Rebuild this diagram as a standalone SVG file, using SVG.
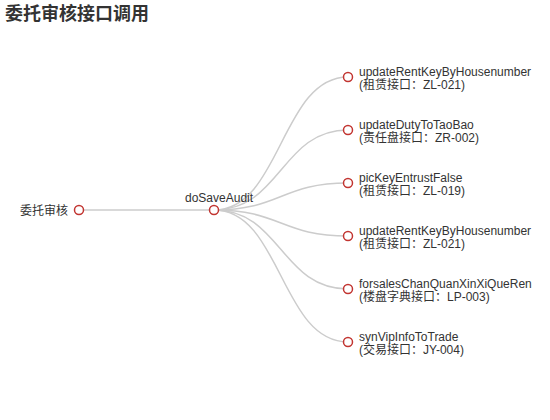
<svg xmlns="http://www.w3.org/2000/svg" width="550" height="420" viewBox="0 0 550 420">
<style>
text{font-family:"Liberation Sans","Noto Sans CJK SC",sans-serif;fill:#333;font-size:12px}
.title{font-size:18px;font-weight:bold}
.node circle{fill:#fff;stroke:#c23531;stroke-width:1.5}
.links path{fill:none;stroke:#ccc;stroke-width:1.5}
</style>
<rect width="550" height="420" fill="#fff"/>
<text class="title" x="5" y="20">委托审核接口调用</text>
<g class="links">
<path d="M79,210 L214,210"/>
<path d="M214,210 C281,210 281,77 348,77"/>
<path d="M214,210 C281,210 281,130 348,130"/>
<path d="M214,210 C281,210 281,183 348,183"/>
<path d="M214,210 C281,210 281,236 348,236"/>
<path d="M214,210 C281,210 281,289 348,289"/>
<path d="M214,210 C281,210 281,342 348,342"/>
</g>
<g id="root" class="node"><circle cx="79" cy="210" r="4.5"/><text x="68" y="214.5" text-anchor="end">委托审核</text></g>
<g id="doSaveAudit" class="node"><circle cx="214" cy="210" r="4.5"/><text x="185" y="202">doSaveAudit</text></g>
<g id="leaf1" class="node"><circle cx="348" cy="77" r="4.5"/><text x="359" y="76">updateRentKeyByHousenumber<tspan x="359" dy="13">(租赁接口：ZL-021)</tspan></text></g>
<g id="leaf2" class="node"><circle cx="348" cy="130" r="4.5"/><text x="359" y="129">updateDutyToTaoBao<tspan x="359" dy="13">(责任盘接口：ZR-002)</tspan></text></g>
<g id="leaf3" class="node"><circle cx="348" cy="183" r="4.5"/><text x="359" y="182">picKeyEntrustFalse<tspan x="359" dy="13">(租赁接口：ZL-019)</tspan></text></g>
<g id="leaf4" class="node"><circle cx="348" cy="236" r="4.5"/><text x="359" y="235">updateRentKeyByHousenumber<tspan x="359" dy="13">(租赁接口：ZL-021)</tspan></text></g>
<g id="leaf5" class="node"><circle cx="348" cy="289" r="4.5"/><text x="359" y="288">forsalesChanQuanXinXiQueRen<tspan x="359" dy="13">(楼盘字典接口：LP-003)</tspan></text></g>
<g id="leaf6" class="node"><circle cx="348" cy="342" r="4.5"/><text x="359" y="341">synVipInfoToTrade<tspan x="359" dy="13">(交易接口：JY-004)</tspan></text></g>
</svg>
